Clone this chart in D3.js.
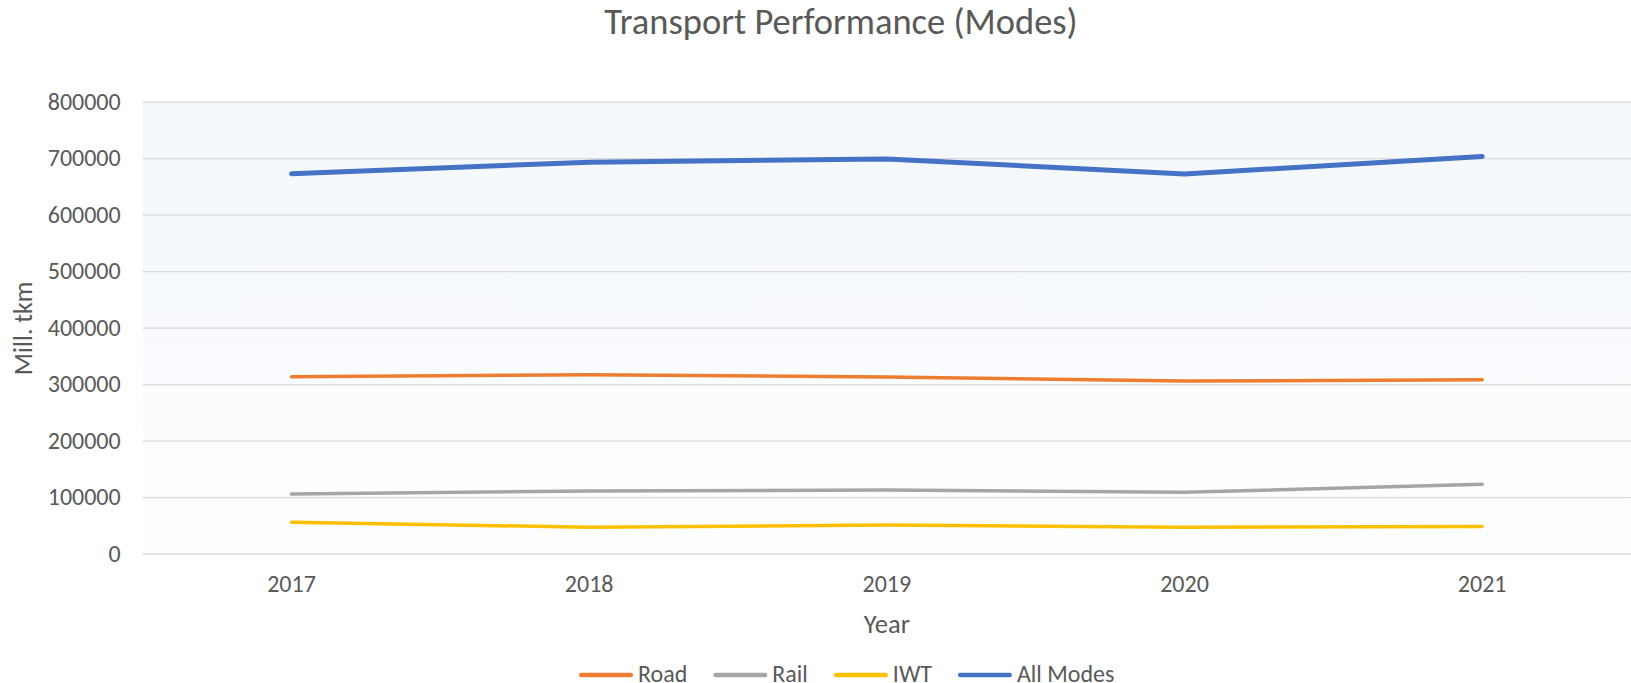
<!DOCTYPE html>
<meta charset="utf-8">
<style>
body { margin: 0; background: #fff; }
text { font-family: Carlito, Calibri, "Open Sans", sans-serif; fill: #595959; }
.grid line { stroke: #d9d9d9; stroke-width: 1.3px; }
.line { fill: none; stroke-linecap: round; stroke-linejoin: round; }
</style>
<body>
<script src="https://d3js.org/d3.v7.min.js"></script>
<script>

// data
var years = ["2017", "2018", "2019", "2020", "2021"];
var road = [313000, 316500, 312500, 305500, 307500];
var rail = [105500, 110500, 112500, 108500, 122500];
var iwt = [55500, 46500, 50500, 46500, 48000];
var allModes = [672500, 693000, 698500, 672000, 703000];
var yTicks = [0, 100000, 200000, 300000, 400000, 500000, 600000, 700000, 800000];

var series = [
  {name: "Road", values: road, color: "#ed7d31", width: 3.5},
  {name: "Rail", values: rail, color: "#a5a5a5", width: 3.5},
  {name: "IWT", values: iwt, color: "#ffc000", width: 3.5},
  {name: "All Modes", values: allModes, color: "#4472c4", width: 5}
];

var W = 1631, H = 683;
var margin = {top: 101.7, right: 0, bottom: 129.5, left: 142.7},
    width = W - margin.left - margin.right,
    height = H - margin.top - margin.bottom;

var svg = d3.select("body").append("svg")
    .attr("width", W)
    .attr("height", H);

// plot area gradient
var grad = svg.append("defs").append("linearGradient")
    .attr("id", "bg").attr("x1", 0).attr("y1", 0).attr("x2", 0).attr("y2", 1);
grad.append("stop").attr("offset", "0%").attr("stop-color", "#f3f7fb");
grad.append("stop").attr("offset", "100%").attr("stop-color", "#fdfeff");

var g = svg.append("g")
    .attr("transform", "translate(" + margin.left + "," + margin.top + ")");

g.append("rect")
    .attr("width", width)
    .attr("height", height)
    .attr("fill", "url(#bg)");

var x = d3.scaleBand().domain(years).range([0, width]);
var y = d3.scaleLinear().domain([0, 800000]).range([height, 0]);

// gridlines
g.append("g")
    .attr("class", "grid")
    .call(d3.axisLeft(y).tickValues(yTicks).tickSize(-width).tickFormat(""))
    .call(function(s) { s.select(".domain").remove(); });

// y axis labels
g.append("g")
    .call(d3.axisLeft(y).tickValues(yTicks).tickSize(0).tickPadding(22).tickFormat(d3.format("d")))
    .call(function(s) {
      s.select(".domain").remove();
      s.selectAll("text").attr("font-size", "24px").attr("fill", "#595959")
        .style("font-family", null);
    });

// x axis labels
g.append("g")
    .attr("transform", "translate(0," + height + ")")
    .call(d3.axisBottom(x).tickSize(0).tickPadding(21.5))
    .call(function(s) {
      s.select(".domain").remove();
      s.selectAll("text").attr("font-size", "24px").attr("fill", "#595959")
        .style("font-family", null);
    });

// lines
var line = d3.line()
    .x(function(d, i) { return x(years[i]) + x.bandwidth() / 2; })
    .y(function(d) { return y(d); });

g.selectAll(".line")
    .data(series)
    .enter().append("path")
    .attr("class", "line")
    .attr("stroke", function(d) { return d.color; })
    .attr("stroke-width", function(d) { return d.width; })
    .attr("d", function(d) { return line(d.values); });

// title
svg.append("text")
    .attr("x", 841)
    .attr("y", 33.5)
    .attr("text-anchor", "middle")
    .attr("font-size", "36.5px")
    .text("Transport Performance (Modes)");

// axis titles
svg.append("text")
    .attr("x", margin.left + width / 2)
    .attr("y", 632.7)
    .attr("text-anchor", "middle")
    .attr("font-size", "26.5px")
    .text("Year");

svg.append("text")
    .attr("transform", "translate(31.7,328.3) rotate(-90)")
    .attr("text-anchor", "middle")
    .attr("font-size", "26px")
    .text("Mill. tkm");

// legend
var legend = svg.append("g").attr("transform", "translate(579,675)");
var lx = 0;
series.forEach(function(s) {
  var item = legend.append("g").attr("transform", "translate(" + lx + ",0)");
  item.append("line")
      .attr("x1", 2.3).attr("x2", 51.7)
      .attr("stroke", s.color)
      .attr("stroke-width", 4.6)
      .attr("stroke-linecap", "round");
  var t = item.append("text")
      .attr("x", 59)
      .attr("y", 7)
      .attr("font-size", "24px")
      .text(s.name);
  lx += 59 + t.node().getComputedTextLength() + 26;
});

</script>
</body>
